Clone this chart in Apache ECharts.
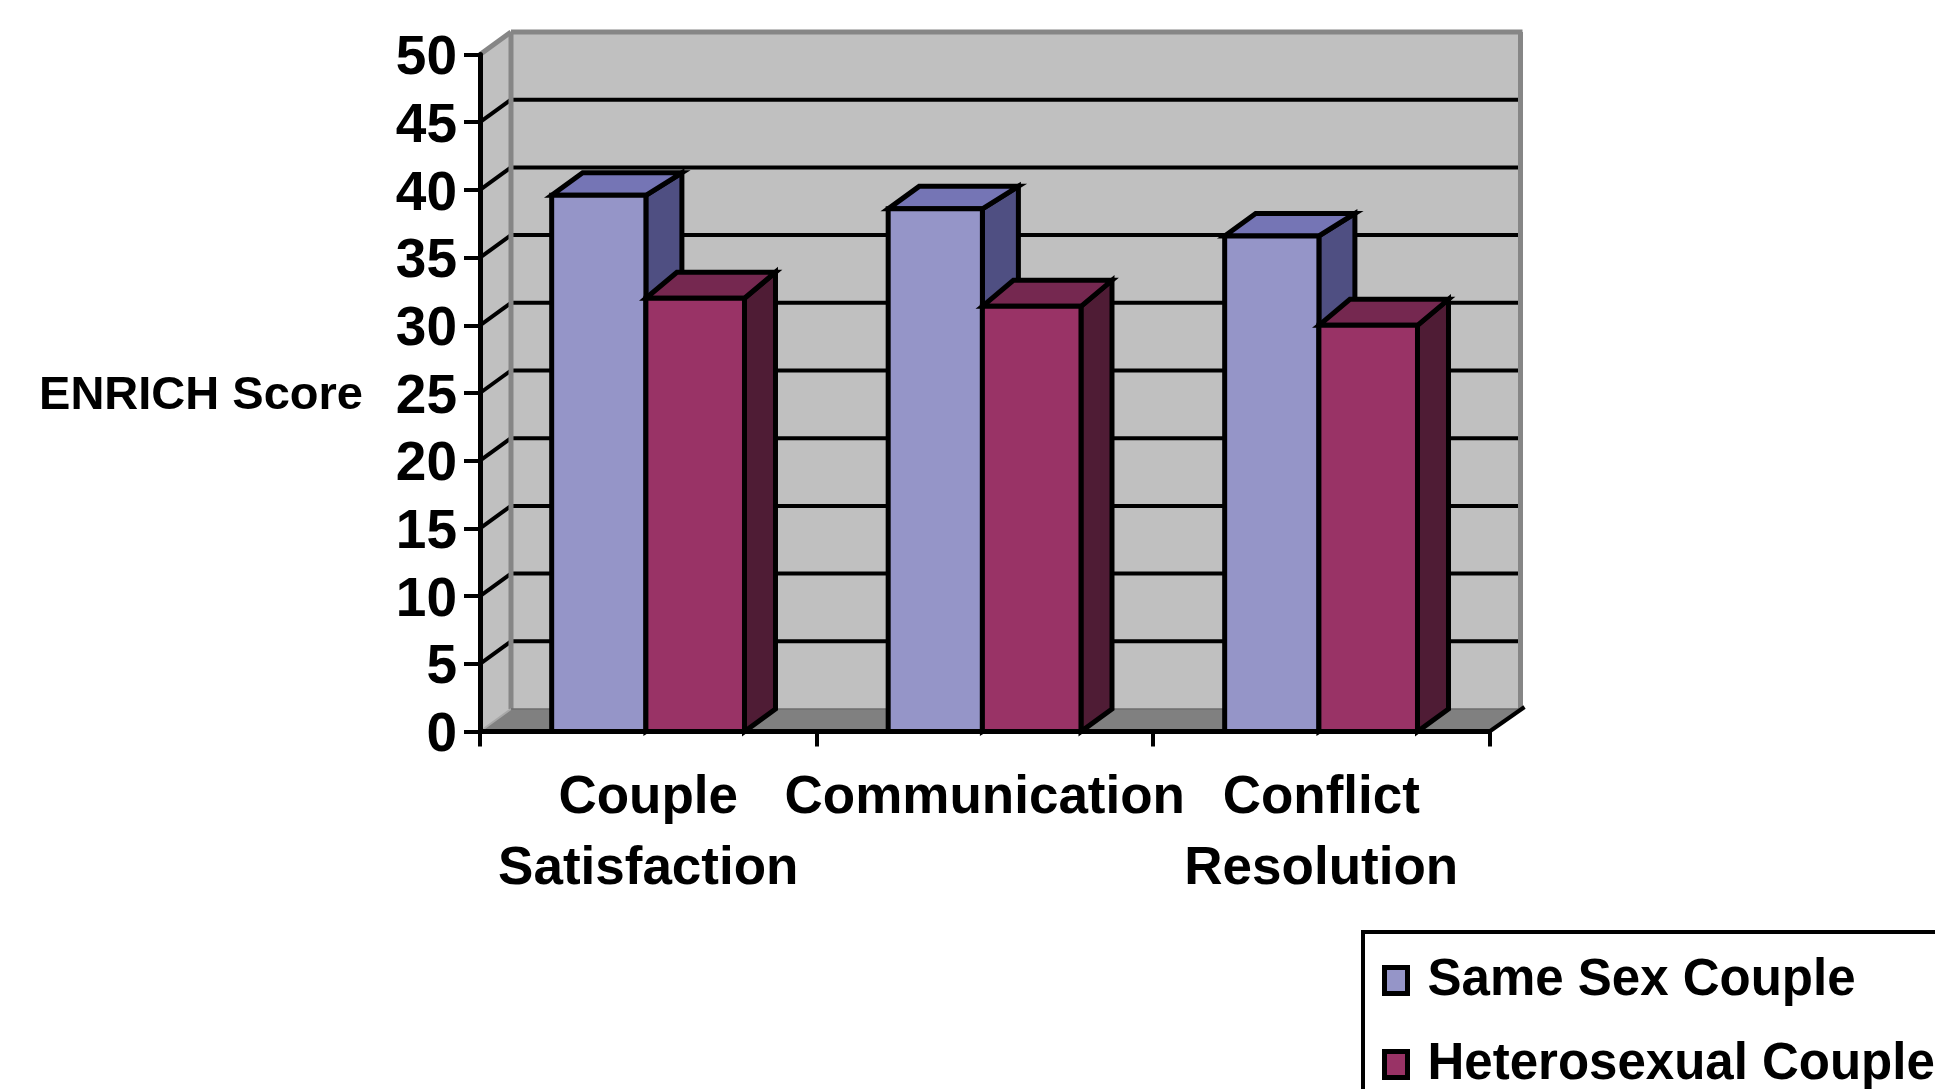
<!DOCTYPE html>
<html>
<head>
<meta charset="utf-8">
<title>ENRICH Score</title>
<style>
  html, body { margin: 0; padding: 0; background: #fff; overflow: hidden; }
  #chart { width: 1935px; height: 1089px; }
</style>
<script src="https://cdn.jsdelivr.net/npm/echarts@6/dist/echarts.min.js"></script>
</head>
<body>
<div id="chart"></div>
<script>
const categories = ['Couple\nSatisfaction', 'Communication', 'Conflict\nResolution'];
const sameSexScores = [39.6, 38.6, 36.6];
const heterosexualScores = [32.0, 31.4, 30.0];
const wallTicks = [5, 10, 15, 20, 25, 30, 35, 40, 45];

const FONT = '"Liberation Sans", Arial, sans-serif';
const INK = '#000';
const EDGE = '#868686';

// Extrusion of the pseudo-3D box, in pixels.
const DEPTH_X = 31;
const DEPTH_Y = 22.5;

function poly(points, fill, stroke, width) {
  return {
    type: 'polygon',
    shape: { points },
    style: { fill, stroke: stroke || null, lineWidth: width || 0, lineJoin: 'miter' }
  };
}
function line(a, b, stroke, width) {
  return {
    type: 'line',
    shape: { x1: a[0], y1: a[1], x2: b[0], y2: b[1] },
    style: { stroke, lineWidth: width }
  };
}

// Back wall, side wall, floor and the gridlines that run along them.
function renderRoom(params, api) {
  const c = params.coordSys;
  const left = c.x, right = c.x + c.width, top = c.y, base = c.y + c.height;
  const children = [
    poly([[left, base], [left + DEPTH_X, base - DEPTH_Y], [left + DEPTH_X, top - DEPTH_Y], [left, top]], '#c0c0c0'),
    poly([[left + DEPTH_X, base - DEPTH_Y], [right + DEPTH_X, base - DEPTH_Y], [right + DEPTH_X, top - DEPTH_Y], [left + DEPTH_X, top - DEPTH_Y]], '#c0c0c0'),
    poly([[left, base], [left + DEPTH_X, base - DEPTH_Y], [right + DEPTH_X, base - DEPTH_Y], [right, base]], '#808080')
  ];
  wallTicks.forEach(function (tick) {
    const y = api.coord([0, tick])[1];
    children.push(line([left, y], [left + DEPTH_X, y - DEPTH_Y], INK, 4));
    children.push(line([left + DEPTH_X, y - DEPTH_Y], [right + DEPTH_X, y - DEPTH_Y], INK, 4));
  });
  children.push(line([left, top], [left + DEPTH_X, top - DEPTH_Y], EDGE, 5));
  children.push(line([left + DEPTH_X, top - DEPTH_Y], [right + DEPTH_X + 2, top - DEPTH_Y], EDGE, 5));
  children.push(line([left + DEPTH_X, top - DEPTH_Y], [left + DEPTH_X, base - DEPTH_Y], EDGE, 5));
  children.push(line([right + DEPTH_X, top - DEPTH_Y], [right + DEPTH_X, base - DEPTH_Y], EDGE, 5));
  children.push(line([left, base], [left + DEPTH_X, base - DEPTH_Y], '#a8a8a8', 2));
  children.push(line([left + DEPTH_X, base - DEPTH_Y], [right + DEPTH_X, base - DEPTH_Y], '#6e6e6e', 1.5));
  children.push(line([right, base], [right + DEPTH_X + 4, base - DEPTH_Y - 2], INK, 4));
  return { type: 'group', children };
}

// One extruded column: front, top and side faces. Columns of a pair meet
// just left of the band centre, and the right-hand column is a little wider.
const PAIR_SHIFT = 0.007;
function columnRenderer(isLeft, widthRatio, sideRun, rise, front, topFace, sideFace) {
  return function (params, api) {
    const i = api.value(0);
    const p = api.coord([i, api.value(1)]);
    const o = api.coord([i, 0]);
    const band = api.size([1, 0])[0];
    const w = band * widthRatio;
    const seam = p[0] - band * PAIR_SHIFT;
    const x0 = isLeft ? seam - w : seam;
    const x1 = x0 + w;
    const y0 = p[1], y1 = o[1];
    return {
      type: 'group',
      children: [
        poly([[x1, y0], [x1 + sideRun, y0 - rise], [x1 + sideRun, y1 - DEPTH_Y], [x1, y1]], sideFace, INK, 5),
        poly([[x0, y0], [x0 + DEPTH_X, y0 - rise], [x1 + sideRun, y0 - rise], [x1, y0]], topFace, INK, 5),
        poly([[x0, y0], [x1, y0], [x1, y1], [x0, y1]], front, INK, 5)
      ]
    };
  };
}

const tickTextStyle = { color: INK, fontFamily: FONT, fontWeight: 'bold', fontSize: 55, padding: [9, 0, 0, 0] };
const nameTextStyle = { color: INK, fontFamily: FONT, fontWeight: 'bold', fontSize: 47, padding: [6, 0, 0, 0] };

const chart = echarts.init(document.getElementById('chart'), null, { renderer: 'canvas' });
chart.setOption({
  animation: false,
  backgroundColor: '#fff',
  grid: { left: 480, top: 54.5, width: 1009.5, height: 677, containLabel: false },
  legend: {
    orient: 'vertical',
    left: 1363,
    top: 932,
    height: 400,
    align: 'left',
    selectedMode: false,
    padding: [23, 40, 40, 19],
    itemGap: 33,
    itemWidth: 23,
    itemHeight: 26,
    icon: 'rect',
    itemStyle: { borderColor: INK, borderWidth: 5 },
    backgroundColor: '#fff',
    borderColor: INK,
    borderWidth: 4,
    textStyle: { color: INK, fontFamily: FONT, fontWeight: 'bold', fontSize: 51, padding: [0, 0, 0, 15] },
    data: ['Same Sex Couple', 'Heterosexual Couple']
  },
  xAxis: {
    type: 'category',
    data: categories,
    z: 1,
    axisLine: { lineStyle: { color: INK, width: 5 } },
    axisTick: { show: true, alignWithLabel: false, length: 15, lineStyle: { color: INK, width: 4 } },
    axisLabel: {
      color: INK, fontFamily: FONT, fontWeight: 'bold', fontSize: 53,
      lineHeight: 71, margin: 31, interval: 0, hideOverlap: false
    },
    splitLine: { show: false }
  },
  yAxis: {
    type: 'value',
    min: 0,
    max: 50,
    interval: 5,
    z: 1,
    name: '{n|ENRICH Score}',
    nameLocation: 'middle',
    nameRotate: 0,
    nameGap: 279,
    nameTextStyle: { align: 'center', verticalAlign: 'middle', rich: { n: nameTextStyle } },
    axisLine: { show: true, lineStyle: { color: INK, width: 5 } },
    axisTick: { show: true, length: 16, lineStyle: { color: INK, width: 4 } },
    axisLabel: {
      margin: 23,
      formatter: '{t|{value}}',
      rich: { t: tickTextStyle },
      showMinLabel: true,
      showMaxLabel: true
    },
    splitLine: { show: false }
  },
  series: [
    {
      type: 'custom',
      name: 'room',
      coordinateSystem: 'cartesian2d',
      silent: true,
      z: 0,
      renderItem: renderRoom,
      data: [[0, 0]],
      encode: { x: 0, y: 1 }
    },
    {
      type: 'custom',
      name: 'Same Sex Couple',
      coordinateSystem: 'cartesian2d',
      z: 2,
      itemStyle: { color: '#9595c8' },
      renderItem: columnRenderer(true, 0.28, 36, DEPTH_Y, '#9595c8', '#7575b5', '#4f4f82'),
      data: sameSexScores.map(function (v, i) { return [i, v]; }),
      encode: { x: 0, y: 1 }
    },
    {
      type: 'custom',
      name: 'Heterosexual Couple',
      coordinateSystem: 'cartesian2d',
      z: 3,
      itemStyle: { color: '#993366' },
      renderItem: columnRenderer(false, 0.293, DEPTH_X, 26, '#993366', '#752850', '#4f1c35'),
      data: heterosexualScores.map(function (v, i) { return [i, v]; }),
      encode: { x: 0, y: 1 }
    }
  ]
});
</script>
</body>
</html>
